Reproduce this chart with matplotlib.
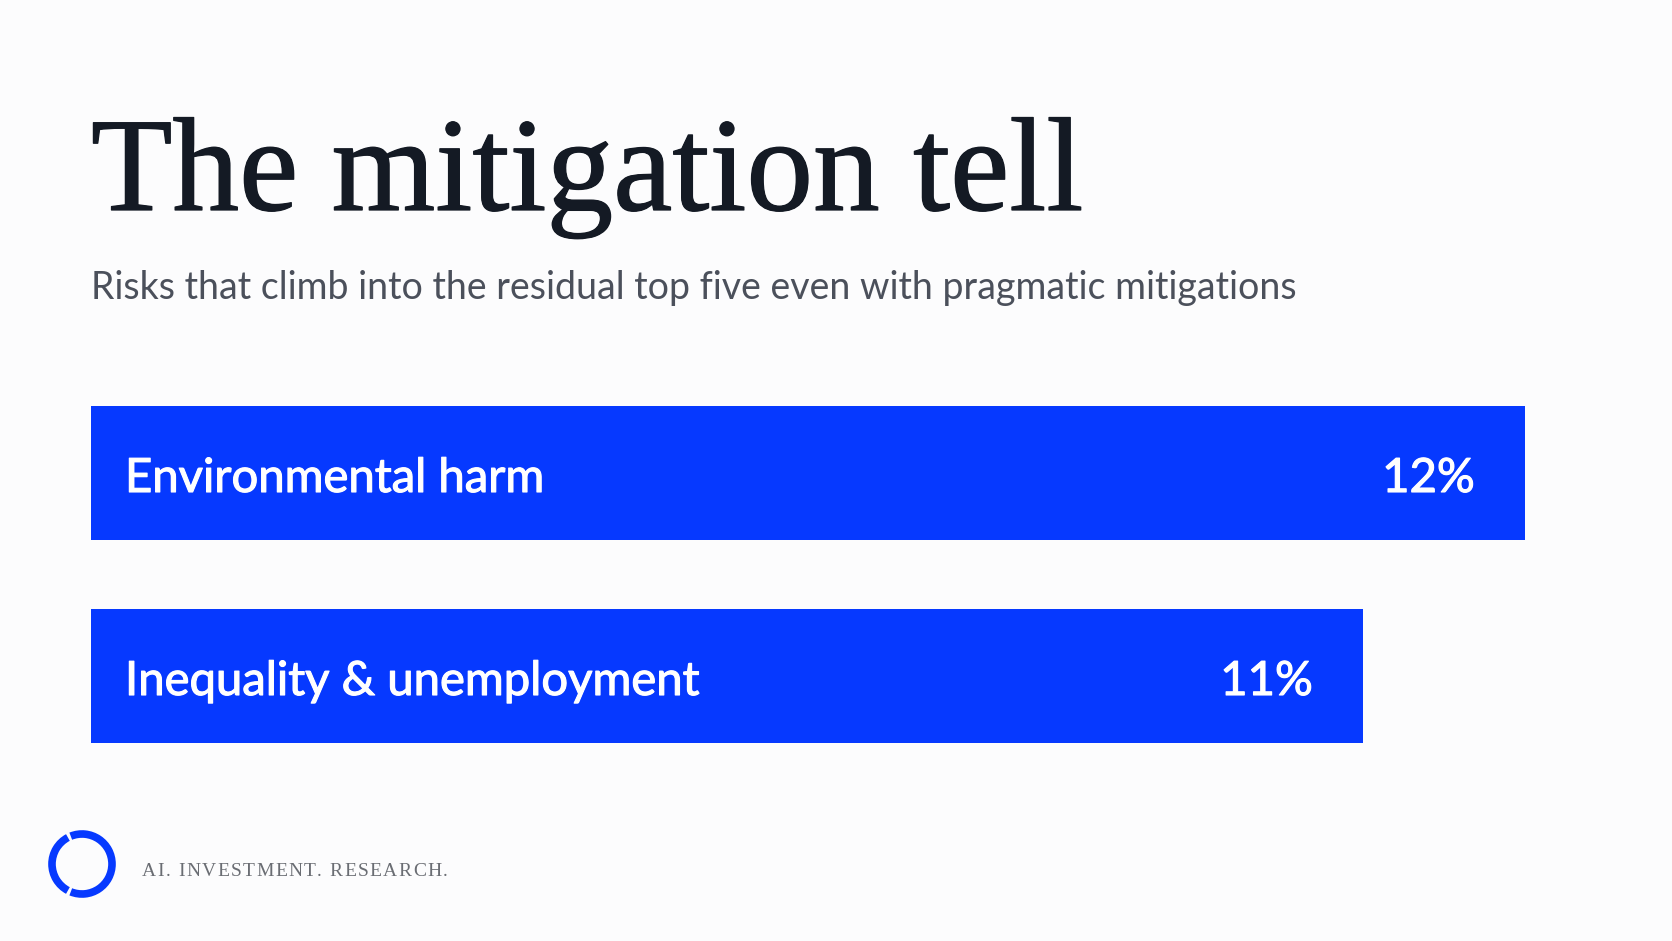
import matplotlib.pyplot as plt
import matplotlib.patheffects as pe
from matplotlib.patches import Arc

# data
risks = ["Environmental harm", "Inequality & unemployment"]
shares = [12, 11]
share_labels = ["12%", "11%"]

BLUE = "#0639FF"
INK = "#141A24"
GREY = "#4B505B"
BG = "#FCFCFD"

W, H = 1672, 941
fig = plt.figure(figsize=(W / 100, H / 100), dpi=100, facecolor=BG)

# title + subtitle
fig.text(91 / W, 1 - 210 / H, "The mitigation tell", family="Liberation Serif",
         fontsize=96, color=INK, va="baseline", ha="left",
         path_effects=[pe.withStroke(linewidth=0.9, foreground=INK)])
fig.text(91 / W, 1 - 299 / H,
         "Risks that climb into the residual top five even with pragmatic mitigations",
         family="Lato", fontsize=27, color=GREY, va="baseline", ha="left")

# bars
ax = fig.add_axes([91 / W, 1 - 743 / H, 1434 / W, 337 / H])
ax.set_facecolor("none")
ypos = list(range(len(risks)))
ax.barh(ypos, shares, height=0.66, color=BLUE)
ax.set_xlim(3.15, 12)
ax.set_ylim(1.33, -0.33)
ax.axis("off")

for y, name, v, lab in zip(ypos, risks, shares, share_labels):
    ax.annotate(name, xy=(0, y), xycoords=("axes fraction", "data"),
                xytext=(34, -19), textcoords="offset pixels",
                ha="left", va="baseline", color="white", family="Lato",
                fontsize=34, path_effects=[pe.withStroke(linewidth=0.8, foreground="white")])
    ax.annotate(lab, xy=(v, y), xytext=(-50, -19), textcoords="offset pixels",
                ha="right", va="baseline", color="white", family="Lato",
                fontsize=34, path_effects=[pe.withStroke(linewidth=0.8, foreground="white")])

# footer logo + tagline
lax = fig.add_axes([0, 0, 1, 1])
lax.set_xlim(0, W)
lax.set_ylim(H, 0)
lax.axis("off")
cx, cy, r = 82, 864, 30
for t1, t2 in [(118, 242), (248, 472)]:
    lax.add_patch(Arc((cx, cy), 2 * r, 2 * r, theta1=t1, theta2=t2,
                      color=BLUE, lw=5.5))

# letter-spaced tagline, one glyph at a time
renderer = fig.canvas.get_renderer()
x = 142
for ch in "AI. INVESTMENT. RESEARCH.":
    t = fig.text(x / W, 1 - 876 / H, ch, family="Liberation Serif", fontsize=14,
                 color="#6A6D73", va="baseline", ha="left")
    if ch == " ":
        adv = 5
    else:
        adv = t.get_window_extent(renderer).width
    x += adv + 1.4

fig.savefig("out.png", dpi=100, facecolor=BG)
